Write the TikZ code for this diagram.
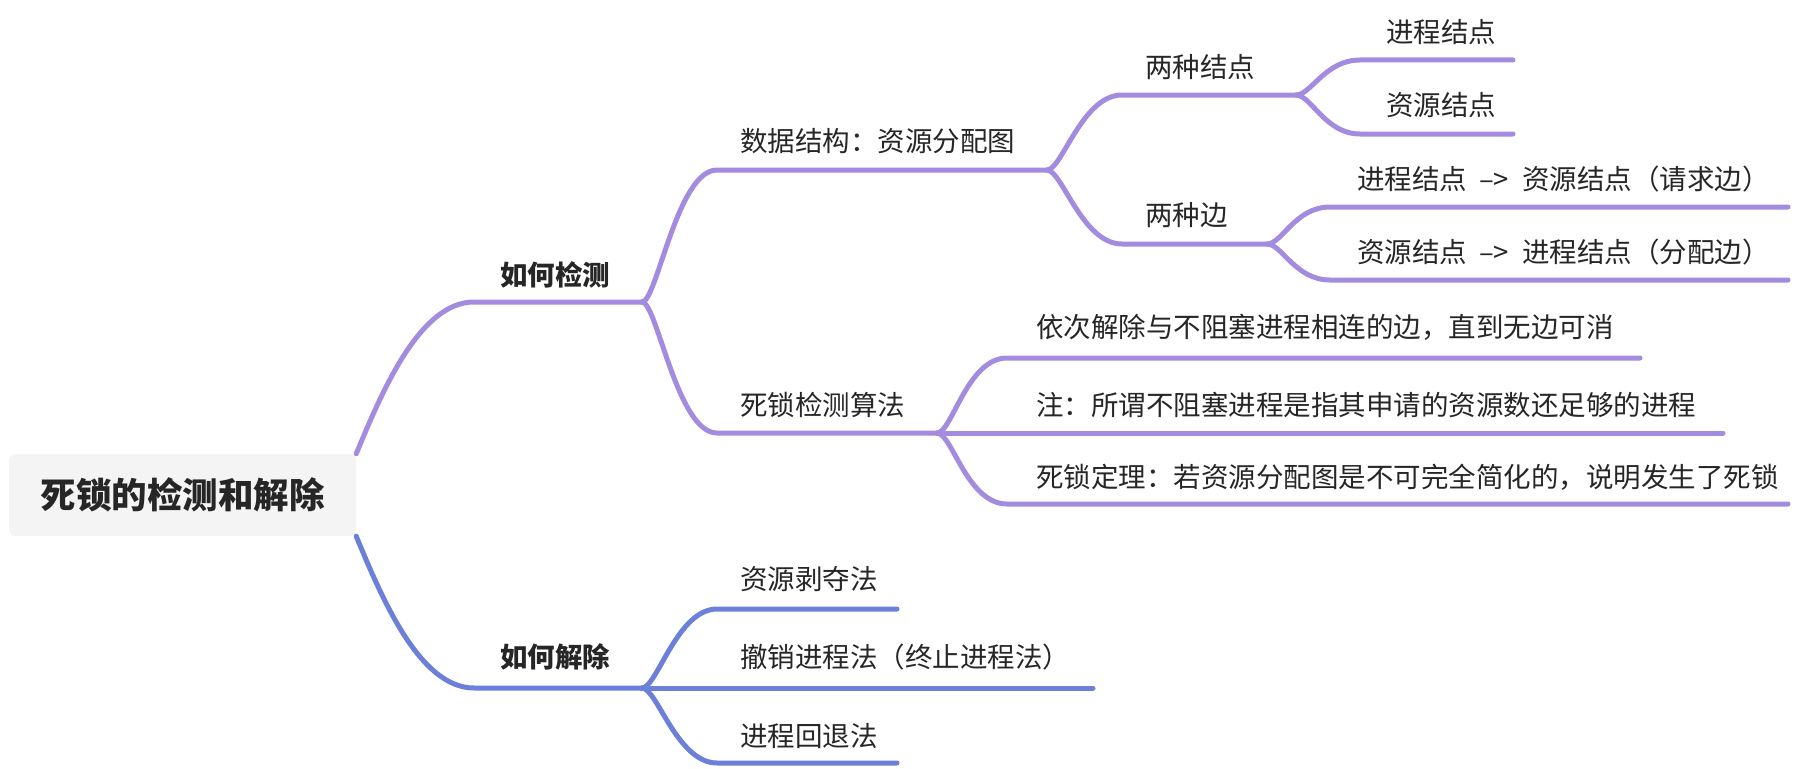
\documentclass[tikz,border=0pt]{standalone}
\usepackage{fontspec}
\setmainfont{Noto Sans CJK SC}
\definecolor{pl}{HTML}{A38CDF}
\definecolor{bl}{HTML}{6C80DA}
\definecolor{tx}{HTML}{262626}
\definecolor{rootbg}{HTML}{F4F4F4}
\begin{document}
\begin{tikzpicture}[x=1pt,y=-1pt,
  lbl/.style={anchor=west, inner sep=0pt, text=tx, font=\fontsize{27.5}{33}\selectfont},
  lbold/.style={anchor=west, inner sep=0pt, text=tx, font=\fontsize{27.5}{33}\selectfont\bfseries},
  plink/.style={draw=pl, line width=5pt, line cap=round},
  blink/.style={draw=bl, line width=5pt, line cap=round}]
\useasboundingbox (0,0) rectangle (1814,768);
% root
\node[fill=rootbg, rounded corners=6pt, minimum width=347pt, minimum height=82pt, inner sep=0pt,
      text=tx, font=\fontsize{35.5}{40}\selectfont\bfseries] (root) at (182.5,495) {死锁的检测和解除};
% level 1
\node[lbold] (det) at (500,275) {如何检测};
\node[lbold] (res) at (500,657) {如何解除};
\coordinate (det0) at (474,302); \coordinate (fD) at (642,302);
\coordinate (res0) at (474,688); \coordinate (fR) at (642,688);
\draw[plink] (root.north east) .. controls +(25,-60) and +(-55,0) .. (det0) -- (fD);
\draw[blink] (root.south east) .. controls +(25,60) and +(-55,0) .. (res0) -- (fR);
% level 2 detection
\node[lbl] (ds) at (740,141) {数据结构：资源分配图};
\coordinate (ds0) at (717,170); \coordinate (fDS) at (1047,170);
\draw[plink] (fD) .. controls +(15,0) and +(-40,0) .. (ds0) -- (fDS);
\node[lbl] (alg) at (740,405) {死锁检测算法};
\coordinate (alg0) at (717,433); \coordinate (fAL) at (937,433);
\draw[plink] (fD) .. controls +(15,0) and +(-40,0) .. (alg0) -- (fAL);
% level 3 data structure
\node[lbl] (tn) at (1145,67) {两种结点};
\coordinate (tn0) at (1122,95); \coordinate (fN) at (1296,95);
\draw[plink] (fDS) .. controls +(15,0) and +(-40,0) .. (tn0) -- (fN);
\node[lbl] (te) at (1145,215) {两种边};
\coordinate (te0) at (1122,244); \coordinate (fE) at (1267,244);
\draw[plink] (fDS) .. controls +(15,0) and +(-40,0) .. (te0) -- (fE);
% level 4 nodes
\node[lbl] (pn) at (1386,32) {进程结点};
\coordinate (pn0) at (1360,60); \coordinate (pn1) at (1513,60);
\draw[plink] (fN) .. controls +(15,0) and +(-35,0) .. (pn0) -- (pn1);
\node[lbl] (rn) at (1386,105) {资源结点};
\coordinate (rn0) at (1360,134); \coordinate (rn1) at (1513,134);
\draw[plink] (fN) .. controls +(15,0) and +(-35,0) .. (rn0) -- (rn1);
% level 4 edges
\node[lbl] (e1) at (1357,179) {进程结点\hspace{12pt}–>\hspace{13pt}资源结点（请求边）};
\coordinate (e10) at (1330,207); \coordinate (e11) at (1788,207);
\draw[plink] (fE) .. controls +(15,0) and +(-35,0) .. (e10) -- (e11);
\node[lbl] (e2) at (1357,252) {资源结点\hspace{12pt}–>\hspace{13pt}进程结点（分配边）};
\coordinate (e20) at (1330,280); \coordinate (e21) at (1788,280);
\draw[plink] (fE) .. controls +(15,0) and +(-35,0) .. (e20) -- (e21);
% level 3 algorithm
\node[lbl] (a1) at (1036,327) {依次解除与不阻塞进程相连的边，直到无边可消};
\coordinate (a10) at (1007,358); \coordinate (a11) at (1640,358);
\draw[plink] (fAL) .. controls +(15,0) and +(-40,0) .. (a10) -- (a11);
\node[lbl] (a2) at (1036,405) {注：所谓不阻塞进程是指其申请的资源数还足够的进程};
\coordinate (a21) at (1723,433);
\draw[plink] (fAL) -- (a21);
\node[lbl] (a3) at (1036,477) {死锁定理：若资源分配图是不可完全简化的，说明发生了死锁};
\coordinate (a30) at (1007,504); \coordinate (a31) at (1788,504);
\draw[plink] (fAL) .. controls +(15,0) and +(-40,0) .. (a30) -- (a31);
% level 2 resolution
\node[lbl] (m1) at (740,579) {资源剥夺法};
\coordinate (m10) at (717,609); \coordinate (m11) at (897,609);
\draw[blink] (fR) .. controls +(15,0) and +(-40,0) .. (m10) -- (m11);
\node[lbl] (m2) at (740,657) {撤销进程法（终止进程法）};
\coordinate (m21) at (1093,688);
\draw[blink] (fR) -- (m21);
\node[lbl] (m3) at (740,736) {进程回退法};
\coordinate (m30) at (717,763); \coordinate (m31) at (897,763);
\draw[blink] (fR) .. controls +(15,0) and +(-40,0) .. (m30) -- (m31);
\end{tikzpicture}
\end{document}
